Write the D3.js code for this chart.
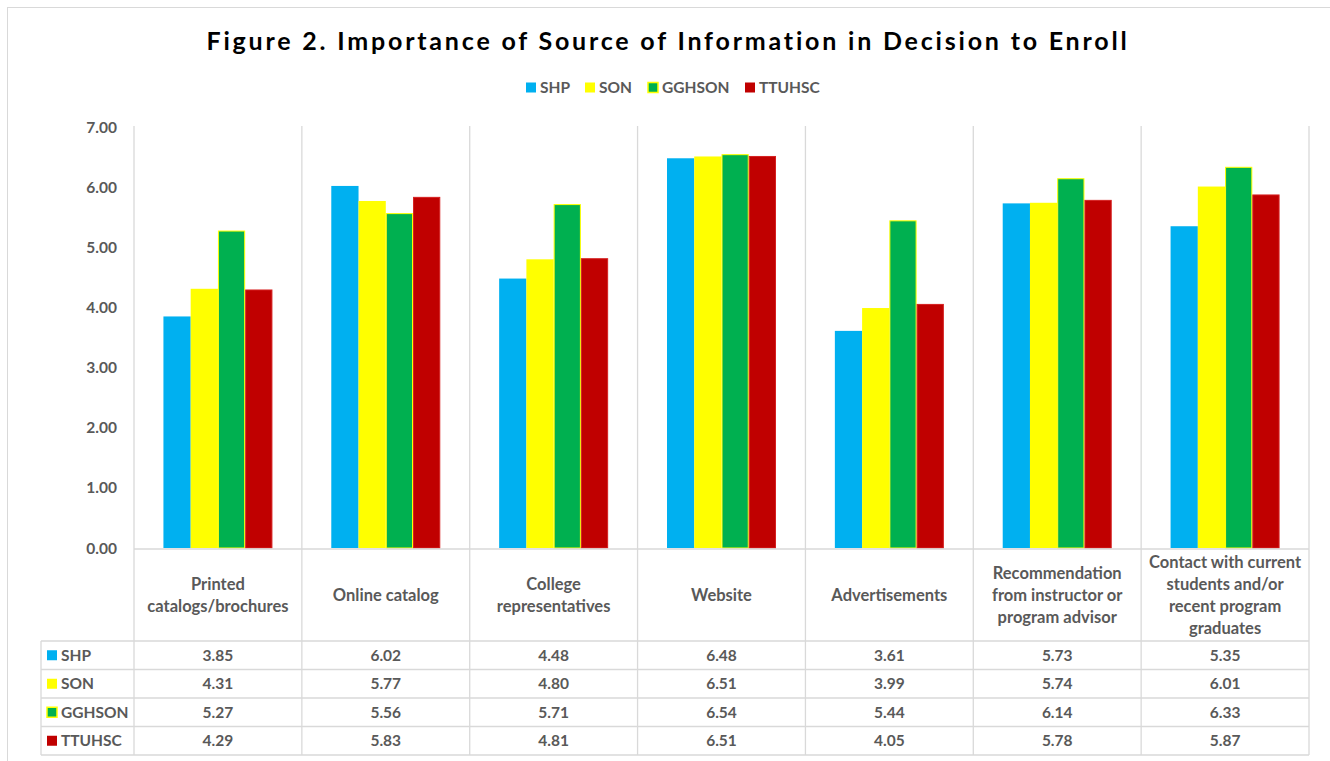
<!DOCTYPE html>
<html>
<head>
<meta charset="utf-8">
<script src="https://cdn.jsdelivr.net/npm/d3@7"></script>
<style>
  body { margin: 0; background: #fff; }
  text { font-family: Lato, "Open Sans", sans-serif; }
</style>
</head>
<body>
<div id="chart"></div>
<script>
const categories = [
  ["Printed", "catalogs/brochures"],
  ["Online catalog"],
  ["College", "representatives"],
  ["Website"],
  ["Advertisements"],
  ["Recommendation", "from instructor or", "program advisor"],
  ["Contact with current", "students and/or", "recent program", "graduates"]
];
const seriesNames = ["SHP", "SON", "GGHSON", "TTUHSC"];
const shp    = [3.85, 6.02, 4.48, 6.48, 3.61, 5.73, 5.35];
const son    = [4.31, 5.77, 4.80, 6.51, 3.99, 5.74, 6.01];
const gghson = [5.27, 5.56, 5.71, 6.54, 5.44, 6.14, 6.33];
const ttuhsc = [4.29, 5.83, 4.81, 6.51, 4.05, 5.78, 5.87];
const yTicks = [0, 1, 2, 3, 4, 5, 6, 7];

const seriesValues = [shp, son, gghson, ttuhsc];
const fills = ["#00B0F0", "#FFFF00", "#00B050", "#C00000"];
const strokes = ["none", "none", "#FFFF00", "#D62020"];
const textColor = "#595959";
const gridColor = "#D9D9D9";

const width = 1330, height = 761;
const plotLeft = 134, plotRight = 1309, plotTop = 127, base = 548;
const labelBottom = 641, rowH = 28.5, tableLeft = 41;

const svg = d3.select("#chart").append("svg")
  .attr("width", width).attr("height", height);

// outer frame
svg.append("rect")
  .attr("x", 7.5).attr("y", 7.5)
  .attr("width", width).attr("height", height)
  .attr("fill", "none").attr("stroke", gridColor);

// title
svg.append("text")
  .attr("x", 668).attr("y", 50)
  .attr("text-anchor", "middle")
  .style("font-size", "25px").style("font-weight", "bold")
  .style("letter-spacing", "2.8px")
  .attr("fill", "#000")
  .text("Figure 2. Importance of Source of Information in Decision to Enroll");

// legend
const legendX = [526, 585, 648, 745];
const legend = svg.append("g");
seriesNames.forEach((s, i) => {
  legend.append("rect")
    .attr("x", legendX[i]).attr("y", 82.5)
    .attr("width", 10).attr("height", 10)
    .attr("fill", fills[i])
    .attr("stroke", i === 2 ? "#FFFF00" : "none").attr("stroke-width", 1.5);
  legend.append("text")
    .attr("x", legendX[i] + 14).attr("y", 93)
    .style("font-size", "15.5px").style("font-weight", "bold")
    .attr("fill", textColor).text(s);
});

// scales
const x = d3.scaleBand().domain(d3.range(categories.length)).range([plotLeft, plotRight]).padding(0);
const xs = d3.scaleBand().domain(seriesNames).range([0, x.bandwidth()])
  .paddingInner(0).paddingOuter(1.08);
const y = d3.scaleLinear().domain([0, 7]).range([base, plotTop]);

// y axis labels
svg.append("g").selectAll("text")
  .data(yTicks).enter().append("text")
  .attr("x", 117).attr("y", d => y(d) + 5.5)
  .attr("text-anchor", "end")
  .style("font-size", "15.5px").style("font-weight", "bold")
  .attr("fill", textColor)
  .text(d => d.toFixed(2));

// bars
const groups = svg.append("g").selectAll("g")
  .data(seriesNames).enter().append("g");
groups.each(function(s, si) {
  d3.select(this).selectAll("rect")
    .data(seriesValues[si]).enter().append("rect")
    .attr("x", (d, ci) => x(ci) + xs(s) + (strokes[si] !== "none" ? 0.5 : 0))
    .attr("y", d => y(d))
    .attr("width", xs.bandwidth() - (strokes[si] !== "none" ? 1 : 0))
    .attr("height", d => base - y(d))
    .attr("fill", fills[si])
    .attr("stroke", strokes[si]).attr("stroke-width", 1);
});

// grid / table lines
const lines = svg.append("g").attr("stroke", gridColor).attr("stroke-width", 1.3);
const tableBottom = labelBottom + rowH * seriesNames.length;
d3.range(categories.length + 1).forEach(i => {
  const xx = i < categories.length ? x(i) : plotRight;
  lines.append("line").attr("x1", xx).attr("x2", xx).attr("y1", plotTop - 1).attr("y2", tableBottom);
});
lines.append("line").attr("x1", plotLeft).attr("x2", plotRight).attr("y1", base + 1).attr("y2", base + 1);
d3.range(seriesNames.length + 1).forEach(r => {
  const yy = labelBottom + r * rowH;
  lines.append("line").attr("x1", tableLeft).attr("x2", plotRight).attr("y1", yy).attr("y2", yy);
});
lines.append("line").attr("x1", tableLeft).attr("x2", tableLeft).attr("y1", labelBottom).attr("y2", tableBottom);

// category labels
const lineH = 21.7;
const labelMid = (base + labelBottom) / 2 + 1;
categories.forEach((lab, ci) => {
  const t = svg.append("text")
    .attr("text-anchor", "middle")
    .style("font-size", "16.5px").style("font-weight", "bold")
    .attr("fill", textColor);
  lab.forEach((ln, k) => {
    t.append("tspan")
      .attr("x", x(ci) + x.bandwidth() / 2)
      .attr("y", labelMid + (k - (lab.length - 1) / 2) * lineH + 5.5)
      .text(ln);
  });
});

// data table
seriesNames.forEach((s, si) => {
  const cy = labelBottom + si * rowH + rowH / 2;
  svg.append("rect")
    .attr("x", 47).attr("y", cy - 5)
    .attr("width", 10).attr("height", 10)
    .attr("fill", fills[si])
    .attr("stroke", si === 2 ? "#FFFF00" : "none").attr("stroke-width", 1.5);
  svg.append("text")
    .attr("x", 61).attr("y", cy + 5.5)
    .style("font-size", "15.5px").style("font-weight", "bold")
    .attr("fill", textColor).text(s);
  svg.append("g").selectAll("text")
    .data(seriesValues[si]).enter().append("text")
    .attr("x", (d, ci) => x(ci) + x.bandwidth() / 2)
    .attr("y", cy + 5.5)
    .attr("text-anchor", "middle")
    .style("font-size", "15.5px").style("font-weight", "bold")
    .attr("fill", textColor)
    .text(d => d.toFixed(2));
});
</script>
</body>
</html>
